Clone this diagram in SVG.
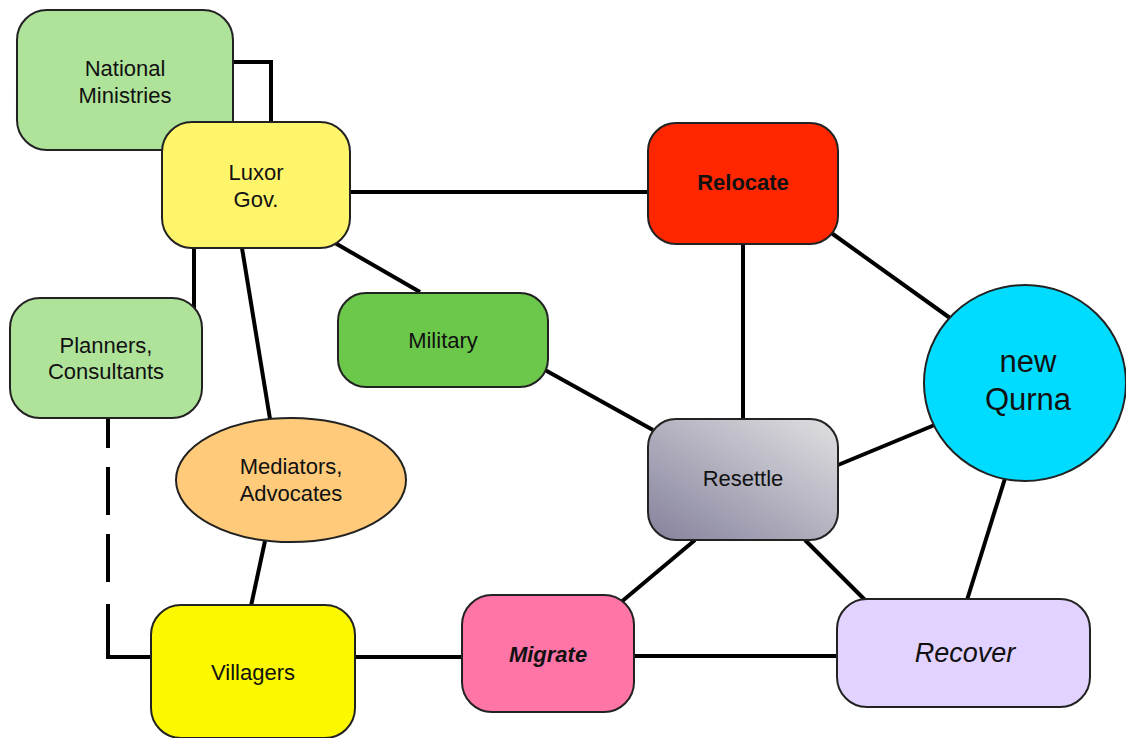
<svg xmlns="http://www.w3.org/2000/svg" width="1126" height="738" viewBox="0 0 1126 738">
<style>
.n{stroke:#222;stroke-width:2}
.c{stroke:#000;stroke-width:4;fill:none}
text{font-family:"Liberation Sans",Arial,sans-serif;font-size:22px;fill:#111;text-anchor:middle}
.b{font-weight:bold}
.i{font-style:italic}
</style>
<defs>
<linearGradient id="gr" x1="1" y1="0" x2="0" y2="1">
<stop offset="0" stop-color="#e0e0e2"/>
<stop offset="1" stop-color="#85829c"/>
</linearGradient>
</defs>
<rect width="1126" height="738" fill="#fff"/>
<g id="connectors">
<polyline class="c" points="233,62 271,62 271,124"/>
<line class="c" x1="350" y1="192" x2="648" y2="192"/>
<line class="c" x1="335" y1="243" x2="420" y2="292"/>
<line class="c" x1="194" y1="248" x2="194" y2="312"/>
<line class="c" x1="242" y1="248" x2="270" y2="419"/>
<line class="c" x1="265" y1="541" x2="251" y2="606"/>
<line class="c" x1="108" y1="418" x2="108" y2="586" stroke-dasharray="48,19" stroke-dashoffset="18"/>
<polyline class="c" points="108,604 108,657 152,657"/>
<line class="c" x1="355" y1="657" x2="462" y2="657"/>
<line class="c" x1="634" y1="656" x2="837" y2="656"/>
<line class="c" x1="743" y1="244" x2="743" y2="419"/>
<line class="c" x1="545" y1="370" x2="653" y2="430"/>
<line class="c" x1="838" y1="465" x2="937" y2="424"/>
<line class="c" x1="830" y1="232" x2="950" y2="318"/>
<line class="c" x1="695" y1="540" x2="620" y2="603"/>
<line class="c" x1="805" y1="540" x2="866" y2="601"/>
<line class="c" x1="1007" y1="472" x2="967" y2="600"/>
</g>
<g id="national-ministries">
<rect class="n" x="17" y="10" width="216" height="140" rx="30" fill="#b0e39a"/>
<text x="125" y="76">National</text>
<text x="125" y="103">Ministries</text>
</g>
<g id="luxor-gov">
<rect class="n" x="162" y="122" width="188" height="126" rx="30" fill="#fff56b"/>
<text x="256" y="180">Luxor</text>
<text x="256" y="207">Gov.</text>
</g>
<g id="relocate">
<rect class="n" x="648" y="123" width="190" height="121" rx="28" fill="#ff2600"/>
<text class="b" x="743" y="190">Relocate</text>
</g>
<g id="military">
<rect class="n" x="338" y="293" width="210" height="94" rx="28" fill="#6cc84a"/>
<text x="443" y="348">Military</text>
</g>
<g id="planners">
<rect class="n" x="10" y="298" width="192" height="120" rx="30" fill="#b0e39a"/>
<text x="106" y="353">Planners,</text>
<text x="106" y="379">Consultants</text>
</g>
<g id="mediators">
<ellipse class="n" cx="291" cy="480" rx="115" ry="62" fill="#ffcb7a"/>
<text x="291" y="474">Mediators,</text>
<text x="291" y="501">Advocates</text>
</g>
<g id="resettle">
<rect class="n" x="648" y="419" width="190" height="121" rx="28" fill="url(#gr)"/>
<text x="743" y="486">Resettle</text>
</g>
<g id="new-qurna">
<ellipse class="n" cx="1025" cy="383" rx="101" ry="98" fill="#00dcff"/>
<text x="1028" y="372" style="font-size:31px">new</text>
<text x="1028" y="410" style="font-size:31px">Qurna</text>
</g>
<g id="villagers">
<rect class="n" x="151" y="605" width="204" height="133" rx="30" fill="#fbf800"/>
<text x="253" y="680">Villagers</text>
</g>
<g id="migrate">
<rect class="n" x="462" y="595" width="172" height="117" rx="30" fill="#ff75a8"/>
<text class="b i" x="548" y="662">Migrate</text>
</g>
<g id="recover">
<rect class="n" x="837" y="599" width="253" height="108" rx="30" fill="#e2d2ff"/>
<text class="i" x="965" y="662" style="font-size:27px">Recover</text>
</g>
</svg>
